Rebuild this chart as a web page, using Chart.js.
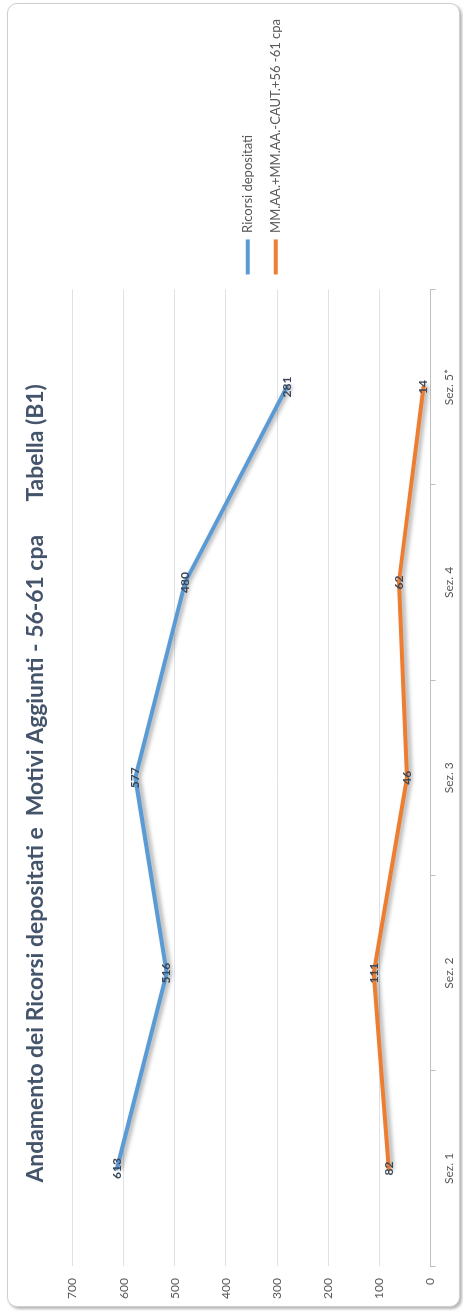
<!DOCTYPE html>
<html>
<head>
<meta charset="utf-8">
<script src="https://cdn.jsdelivr.net/npm/chart.js@4/dist/chart.umd.min.js"></script>
<style>
  html, body { margin:0; padding:0; background:#fff; overflow:hidden; }
  body { width:463px; height:1311px; position:relative; }
  /* il grafico originale e' orizzontale: lo disegno 1311x463 e lo ruoto */
  #wrap { position:absolute; left:0; top:0; width:1311px; height:463px;
          transform-origin:0 0; transform:translate(0,1311px) rotate(-90deg); }
  #card { position:absolute; left:4px; top:7px; width:1302px; height:451px;
          border:1px solid #cfcfcf; border-radius:10px; background:#fff;
          box-shadow:-2px 2px 3px rgba(0,0,0,0.3); }
  #box { position:absolute; left:0; top:0; width:1311px; height:463px; }
</style>
</head>
<body>
<div id="wrap">
  <div id="card"></div>
  <div id="box"><canvas id="myChart"></canvas></div>
</div>
<script>
/*DATI*/
const categorie = ['Sez. 1', 'Sez. 2', 'Sez. 3', 'Sez. 4', 'Sez. 5*'];
const ricorsi = [613, 516, 577, 480, 281];
const motiviAggiunti = [82, 111, 46, 62, 14];
const tickValori = [0, 100, 200, 300, 400, 500, 600, 700];
const titolo = 'Andamento dei Ricorsi depositati e  Motivi Aggiunti - 56-61 cpa      Tabella (B1)  ';

/*ombra sotto le linee*/
const ombra = {
  id: 'ombra',
  beforeDatasetDraw(chart) {
    const ctx = chart.ctx;
    ctx.save();
    ctx.shadowColor = 'rgba(0,0,0,0.35)';
    ctx.shadowBlur = 4;
    ctx.shadowOffsetX = 0;
    ctx.shadowOffsetY = 3;
  },
  afterDatasetDraw(chart) {
    chart.ctx.restore();
  }
};

/*etichette dei valori sui punti*/
const etichette = {
  id: 'etichette',
  afterDatasetsDraw(chart) {
    const ctx = chart.ctx;
    ctx.save();
    ctx.font = 'bold 12px Lato';
    ctx.fillStyle = '#3a4657';
    ctx.textAlign = 'center';
    ctx.textBaseline = 'middle';
    chart.data.datasets.forEach((ds, i) => {
      chart.getDatasetMeta(i).data.forEach((p, j) => {
        ctx.fillText(ds.data[j], p.x, p.y);
      });
    });
    ctx.restore();
  }
};

const data = {
  labels: categorie,
  datasets: [
    {
      label: 'Ricorsi depositati',
      data: ricorsi,
      borderColor: '#5b9bd5',
      backgroundColor: '#5b9bd5',
      borderWidth: 4,
      borderCapStyle: 'round',
      pointRadius: 0
    },
    {
      label: 'MM.AA.+MM.AA.-CAUT.+56 -61 cpa',
      data: motiviAggiunti,
      borderColor: '#ed7d31',
      backgroundColor: '#ed7d31',
      borderWidth: 4,
      borderCapStyle: 'round',
      pointRadius: 0
    }
  ]
};

const config = {
  type: 'line',
  data: data,
  plugins: [ombra, etichette],
  options: {
    responsive: false,
    animation: false,
    devicePixelRatio: 1,
    layout: { padding: { left: 0, right: 9, top: 12, bottom: 1 } },
    plugins: {
      title: {
        display: true,
        text: titolo,
        fullSize: false,
        color: '#44546a',
        font: { family: 'Lato', size: 22.9, weight: 'bold' },
        padding: { top: 10, bottom: 23 }
      },
      legend: {
        position: 'right',
        title: { display: true, text: '', font: { size: 12 }, padding: 17.5 },
        labels: {
          usePointStyle: true,
          pointStyle: 'line',
          pointStyleWidth: 35,
          color: '#595959',
          font: { family: 'Lato', size: 13 },
          padding: 15
        }
      },
      tooltip: { enabled: false }
    },
    scales: {
      x: {
        offset: true,
        border: { color: '#bfbfbf' },
        grid: { offset: true, drawOnChartArea: false, tickLength: 5, color: '#bfbfbf' },
        ticks: { color: '#595959', font: { family: 'Lato', size: 12 }, padding: 6 }
      },
      y: {
        min: 0,
        max: 700,
        afterBuildTicks(axis) { axis.ticks = tickValori.map(v => ({ value: v })); },
        border: { display: false },
        grid: { color: '#dde1e8', drawTicks: false },
        ticks: { color: '#595959', font: { family: 'Lato', size: 12 }, padding: 12 }
      }
    }
  }
};

var canvas = document.getElementById('myChart');
canvas.width = 1311;
canvas.height = 463;
const myChart = new Chart(canvas.getContext('2d'), config);
</script>
</body>
</html>
